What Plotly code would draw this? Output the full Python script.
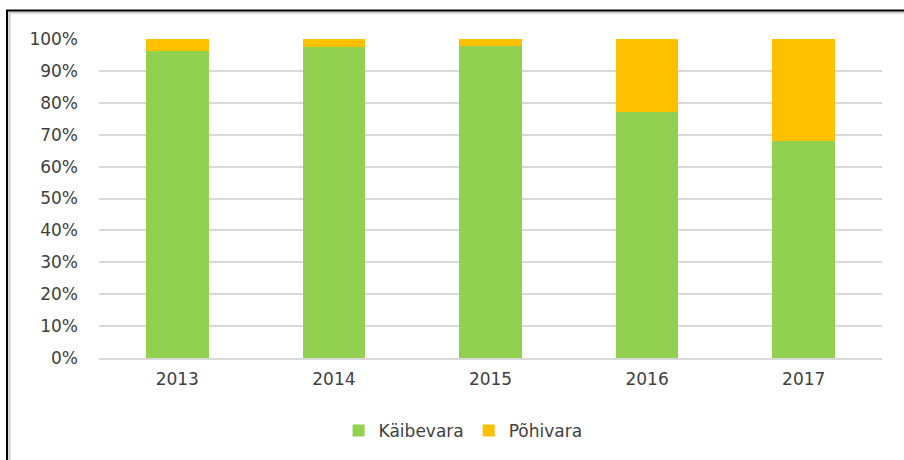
import plotly.graph_objects as go

# aastad ja osakaalud (%)
years = ["2013", "2014", "2015", "2016", "2017"]
kaibevara = [96.2, 97.4, 97.9, 77.0, 67.9]
pohivara = [3.8, 2.6, 2.1, 23.0, 32.1]
y_ticks = [0, 10, 20, 30, 40, 50, 60, 70, 80, 90, 100]

W, H = 904, 460
L, R, T, B = 99, 22, 39, 101
pw, ph = W - L - R, H - T - B


def px_x(px):
    return (px - L) / pw


def px_y(py):
    return (H - B - py) / ph


fig = go.Figure()

fig.add_trace(go.Bar(
    x=years, y=kaibevara, name="Käibevara",
    marker=dict(color="#92D050", line=dict(width=0)),
    width=0.4,
))
fig.add_trace(go.Bar(
    x=years, y=pohivara, name="Põhivara",
    marker=dict(color="#FFC000", line=dict(width=0)),
    width=0.4,
))

# raam ümber diagrammi (varjuga)
fig.add_shape(type="rect", xref="paper", yref="paper",
              x0=px_x(9.5), x1=px_x(930), y0=px_y(480), y1=px_y(12.5),
              line=dict(color="#C8C8C8", width=2), layer="below")
fig.add_shape(type="rect", xref="paper", yref="paper",
              x0=px_x(7), x1=px_x(930), y0=px_y(480), y1=px_y(10.5),
              line=dict(color="#000000", width=2), layer="below")

fig.update_layout(
    width=W, height=H,
    barmode="stack",
    margin=dict(l=L, r=R, t=T, b=B),
    paper_bgcolor="white", plot_bgcolor="white",
    font=dict(family="DejaVu Sans", size=17, color="#404040"),
    showlegend=True,
    legend=dict(orientation="h", x=0.465, xanchor="center",
                y=px_y(431), yanchor="middle",
                font=dict(size=17, color="#404040"),
                itemwidth=30, traceorder="normal"),
    xaxis=dict(
        showgrid=False, showline=True, linecolor="#D9D9D9", linewidth=1.5,
        ticks="", ticklabelstandoff=5, fixedrange=True,
    ),
    yaxis=dict(
        range=[0, 100], tickvals=y_ticks,
        ticktext=[f"{v}%" for v in y_ticks],
        showgrid=True, gridcolor="#D9D9D9", gridwidth=1.5,
        zeroline=False, showline=False, ticks="",
        ticklabelstandoff=20, fixedrange=True,
    ),
)

fig.write_html("out.html", config={"displayModeBar": False},
               post_script="document.body.style.margin='0';")
